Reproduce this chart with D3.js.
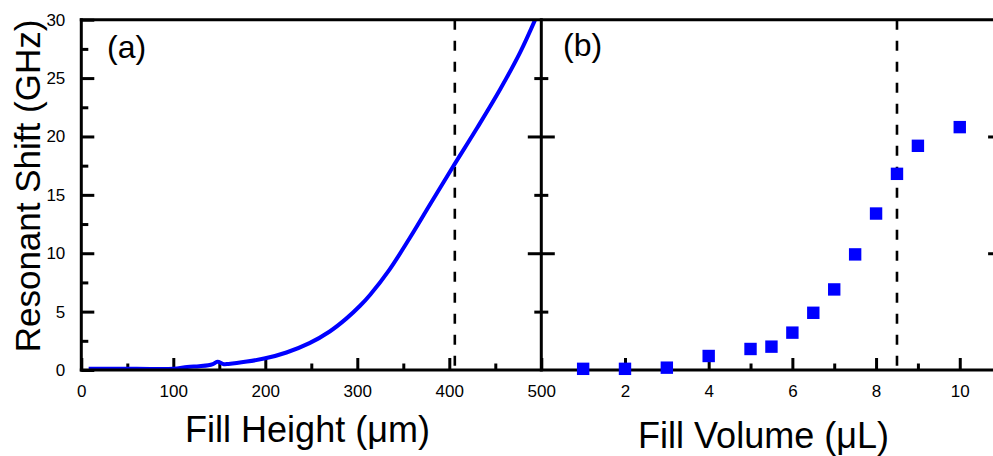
<!DOCTYPE html>
<html><head><meta charset="utf-8">
<script src="https://cdn.jsdelivr.net/npm/d3@7"></script>
<style>
body{margin:0;background:#fff}
svg text{font-family:"Liberation Sans",Arial,Helvetica,sans-serif;fill:#000}
</style>
</head><body><svg id="c" width="993" height="456"></svg>
<script>
// Panel (a): continuous curve, fill height (µm) vs resonant shift (GHz)
const heightUm = [8, 60, 100, 115, 128, 138, 143, 148, 155, 160, 180, 200, 223, 248, 270, 288, 303, 314, 335, 357, 380, 404, 430, 455, 477, 495];
const shiftA   = [0.1, 0.1, 0.1, 0.25, 0.32, 0.4, 0.5, 0.7, 0.5, 0.52, 0.72, 1.0, 1.5, 2.3, 3.3, 4.4, 5.5, 6.45, 8.6, 11.3, 14.3, 17.4, 20.7, 24.0, 27.2, 30.3];
// Panel (b): measured points, fill volume (µL) vs resonant shift (GHz)
const volumeUL = [1, 2, 3, 4, 5, 5.5, 6, 6.5, 7, 7.5, 8, 8.5, 9, 10];
const shiftB   = [0.1, 0.1, 0.2, 1.2, 1.8, 2.0, 3.2, 4.9, 6.9, 9.9, 13.4, 16.8, 19.2, 20.8];
// Axis ticks
const yTicks      = [0, 5, 10, 15, 20, 25, 30];
const yMinorLeft  = [2.5, 7.5, 12.5, 17.5, 22.5, 27.5];
const yInnerMajor = [10, 20];
const yInnerMinor = [5, 15, 25];
const xTicksA     = [0, 100, 200, 300, 400, 500];
const xMinorA     = [50, 150, 250, 350, 450];
const xTicksB     = [2, 4, 6, 8, 10];
const xMinorB     = [1, 3, 5, 7, 9];
// Reference lines
const dashA = 406, dashB = 8.5;
const labelA = "(a)", labelB = "(b)";
const titleXA = "Fill Height (\u03bcm)", titleXB = "Fill Volume (\u03bcL)", titleY = "Resonant Shift (GHz)";

const svg = d3.select("#c");
svg.append("rect").attr("width",993).attr("height",456).attr("fill","#fff");

const xa = d3.scaleLinear().domain([0,500]).range([81.3,541.3]);
const xb = d3.scaleLinear().domain([0,11]).range([541.3,1001.6]);
const y  = d3.scaleLinear().domain([0,30]).range([370,19.7]);

const SW = 3;
function styleAxis(g){
  g.select(".domain").remove();
  g.selectAll(".tick line").attr("stroke","#000").attr("stroke-width",SW);
  g.selectAll(".tick text").attr("font-size",17).attr("fill","#000");
}
function addAxis(gen, tx, ty){
  const g = svg.append("g").attr("transform",`translate(${tx},${ty})`).call(gen);
  styleAxis(g);
  return g;
}
const none = () => "";

// clip panel a
const defs = svg.append("defs");
defs.append("clipPath").attr("id","clipA").append("rect")
  .attr("x",xa(0)).attr("y",y(30)).attr("width",xa(500)-xa(0)).attr("height",y(0)-y(30));

// dashed reference lines
svg.append("line").attr("x1",xa(dashA)).attr("x2",xa(dashA)).attr("y1",y(30)).attr("y2",y(0))
  .attr("stroke","#000").attr("stroke-width",2.6).attr("stroke-dasharray","10,11");
svg.append("line").attr("x1",xb(dashB)).attr("x2",xb(dashB)).attr("y1",y(30)).attr("y2",y(0))
  .attr("stroke","#000").attr("stroke-width",2.6).attr("stroke-dasharray","10,11");

// axes ticks
addAxis(d3.axisBottom(xa).tickValues(xTicksA).tickSize(-12).tickPadding(15).tickSizeOuter(0), 0, y(0));
addAxis(d3.axisBottom(xa).tickValues(xMinorA).tickSize(-6.5).tickFormat(none).tickSizeOuter(0), 0, y(0));
addAxis(d3.axisBottom(xb).tickValues(xTicksB).tickSize(-12).tickPadding(15).tickSizeOuter(0), 0, y(0));
addAxis(d3.axisBottom(xb).tickValues(xMinorB).tickSize(-6.5).tickFormat(none).tickSizeOuter(0), 0, y(0));
addAxis(d3.axisLeft(y).tickValues(yTicks).tickSize(-13).tickPadding(16).tickSizeOuter(0), xa(0), 0);
addAxis(d3.axisLeft(y).tickValues(yMinorLeft).tickSize(-7).tickFormat(none).tickSizeOuter(0), xa(0), 0);
addAxis(d3.axisRight(y).tickValues(yInnerMajor).tickSize(-13.5).tickFormat(none).tickSizeOuter(0), xa(500), 0);
addAxis(d3.axisRight(y).tickValues(yInnerMinor).tickSize(-7).tickFormat(none).tickSizeOuter(0), xa(500), 0);
addAxis(d3.axisLeft(y).tickValues(yInnerMajor).tickSize(-13.5).tickFormat(none).tickSizeOuter(0), xb(0), 0);
addAxis(d3.axisLeft(y).tickValues(yInnerMinor).tickSize(-7).tickFormat(none).tickSizeOuter(0), xb(0), 0);
addAxis(d3.axisRight(y).tickValues(yInnerMajor).tickSize(-13.5).tickFormat(none).tickSizeOuter(0), xb(11), 0);
addAxis(d3.axisRight(y).tickValues(yInnerMinor).tickSize(-7).tickFormat(none).tickSizeOuter(0), xb(11), 0);

// curve panel a
const lineA = d3.line().x(d=>xa(d[0])).y(d=>y(d[1])).curve(d3.curveCatmullRom.alpha(0.5));
svg.append("path").datum(heightUm.map((h,i)=>[h,shiftA[i]]))
  .attr("d",lineA).attr("fill","none").attr("stroke","#0000ff").attr("stroke-width",4)
  .attr("stroke-linejoin","round").attr("clip-path","url(#clipA)");

// frame lines
const frame = svg.append("g").attr("stroke","#000").attr("stroke-width",SW).attr("stroke-linecap","square");
frame.append("line").attr("x1",xa(0)).attr("x2",xb(11)).attr("y1",y(0)).attr("y2",y(0));
frame.append("line").attr("x1",xa(0)).attr("x2",xb(11)).attr("y1",y(30)).attr("y2",y(30));
frame.append("line").attr("x1",xa(0)).attr("x2",xa(0)).attr("y1",y(0)).attr("y2",y(30));
frame.append("line").attr("x1",xa(500)).attr("x2",xa(500)).attr("y1",y(0)).attr("y2",y(30));
frame.append("line").attr("x1",xb(11)).attr("x2",xb(11)).attr("y1",y(0)).attr("y2",y(30));

// squares panel b
const S = 12.4;
svg.append("g").selectAll("rect").data(volumeUL.map((v,i)=>[v,shiftB[i]])).join("rect")
  .attr("x",d=>xb(d[0])-S/2).attr("y",d=>y(d[1])-S/2).attr("width",S).attr("height",S)
  .attr("fill","#0000ff");

// panel labels
svg.append("text").attr("x",107).attr("y",58).attr("font-size",32).text(labelA);
svg.append("text").attr("x",563).attr("y",56).attr("font-size",32).text(labelB);

// titles
svg.append("text").attr("x",307.5).attr("y",442).attr("text-anchor","middle").attr("font-size",36).text(titleXA);
svg.append("text").attr("x",763.5).attr("y",448).attr("text-anchor","middle").attr("font-size",36).text(titleXB);
svg.append("text").attr("transform","translate(40,186) rotate(-90)").attr("text-anchor","middle").attr("font-size",35).text(titleY);
</script>
</body></html>
